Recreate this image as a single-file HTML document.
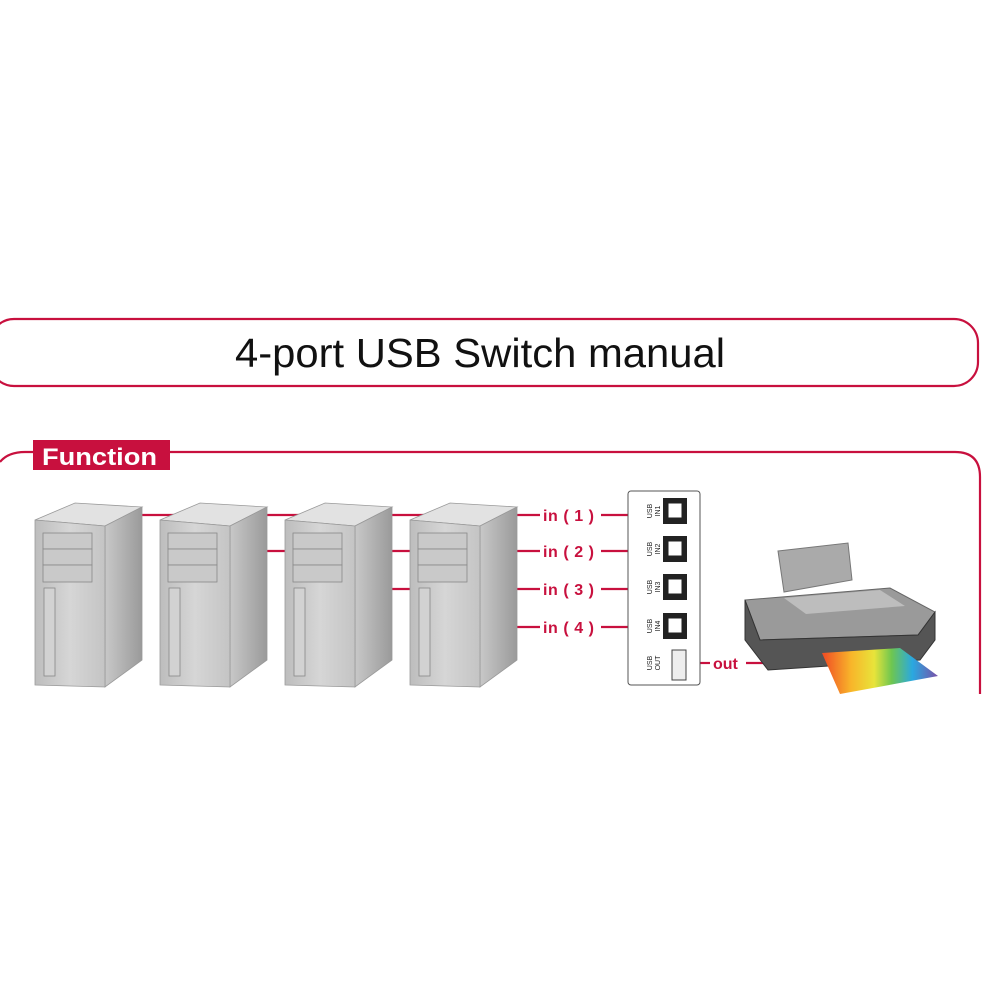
<!DOCTYPE html>
<html><head><style>html,body{margin:0;padding:0;background:#fff;width:1000px;height:1000px;overflow:hidden}</style></head>
<body>
<svg width="1000" height="1000" viewBox="0 0 1000 1000" xmlns="http://www.w3.org/2000/svg" font-family="Liberation Sans, sans-serif">
<defs>
<linearGradient id="fr" x1="0" x2="1"><stop offset="0" stop-color="#bdbdbd"/><stop offset="0.5" stop-color="#d6d6d6"/><stop offset="1" stop-color="#c4c4c4"/></linearGradient>
<linearGradient id="sd" x1="0" x2="1"><stop offset="0" stop-color="#c8c8c8"/><stop offset="1" stop-color="#9a9a9a"/></linearGradient>
<linearGradient id="rb" x1="0" x2="1"><stop offset="0" stop-color="#f04a24"/><stop offset="0.25" stop-color="#f8b52a"/><stop offset="0.45" stop-color="#e8e43a"/><stop offset="0.6" stop-color="#6ec650"/><stop offset="0.78" stop-color="#2aa8e0"/><stop offset="1" stop-color="#7a4fa8"/></linearGradient>
<g id="tw">
<polygon points="35,520 105,526 142,507 75,503" fill="#e2e2e2" stroke="#999" stroke-width="0.8"/>
<polygon points="105,526 142,507 142,660 105,687" fill="url(#sd)" stroke="#999" stroke-width="0.8"/>
<polygon points="35,520 105,526 105,687 35,685" fill="url(#fr)" stroke="#999" stroke-width="0.8"/>
<rect x="43" y="533" width="49" height="16" fill="#c9c9c9" stroke="#888" stroke-width="0.8"/>
<rect x="43" y="549" width="49" height="16" fill="#c9c9c9" stroke="#888" stroke-width="0.8"/>
<rect x="43" y="565" width="49" height="17" fill="#c9c9c9" stroke="#888" stroke-width="0.8"/>
<rect x="44" y="588" width="11" height="88" fill="#d2d2d2" stroke="#888" stroke-width="0.8"/>
</g>
</defs>
<rect x="-10" y="319" width="988" height="67" rx="24" fill="none" stroke="#c8103e" stroke-width="2.2"/>
<text x="480" y="367" font-size="41" text-anchor="middle" textLength="490" lengthAdjust="spacingAndGlyphs" fill="#111">4-port USB Switch manual</text>
<path d="M0,462 Q8,452 25,452 L955,452 Q980,452 980,477 L980,694" fill="none" stroke="#c8103e" stroke-width="2.2"/>
<rect x="33" y="440" width="137" height="30" fill="#c8103e"/>
<text x="42" y="465" font-size="24" font-weight="bold" fill="#fff" textLength="115" lengthAdjust="spacingAndGlyphs">Function</text>
<g stroke="#c8103e" stroke-width="2.2">
<line x1="140" y1="515" x2="540" y2="515"/>
<line x1="265" y1="551" x2="540" y2="551"/>
<line x1="390" y1="589" x2="540" y2="589"/>
<line x1="515" y1="627" x2="540" y2="627"/>
<line x1="601" y1="515" x2="636" y2="515"/>
<line x1="601" y1="551" x2="636" y2="551"/>
<line x1="601" y1="589" x2="636" y2="589"/>
<line x1="601" y1="627" x2="636" y2="627"/>
<line x1="694" y1="663" x2="710" y2="663"/>
<line x1="746" y1="663" x2="768" y2="663"/>
</g>
<use href="#tw"/><use href="#tw" x="125"/><use href="#tw" x="250"/><use href="#tw" x="375"/>
<g font-size="16" font-weight="bold" fill="#c8103e">
<text x="543" y="521" textLength="51" lengthAdjust="spacing">in ( 1 )</text>
<text x="543" y="557" textLength="51" lengthAdjust="spacing">in ( 2 )</text>
<text x="543" y="595" textLength="51" lengthAdjust="spacing">in ( 3 )</text>
<text x="543" y="633" textLength="51" lengthAdjust="spacing">in ( 4 )</text>
<text x="713" y="669">out</text>
</g>
<rect x="628" y="491" width="72" height="194" rx="3" fill="#fff" stroke="#555" stroke-width="1"/>
<g fill="#222">
<rect x="663" y="498" width="24" height="26"/><rect x="663" y="536" width="24" height="26"/>
<rect x="663" y="574" width="24" height="26"/><rect x="663" y="613" width="24" height="26"/>
</g>
<g fill="#fff" stroke="#222" stroke-width="1">
<rect x="668" y="503" width="14" height="15"/><rect x="668" y="541" width="14" height="15"/>
<rect x="668" y="579" width="14" height="15"/><rect x="668" y="618" width="14" height="15"/>
</g>
<rect x="672" y="650" width="14" height="30" fill="#eee" stroke="#444" stroke-width="1"/>
<g font-size="7" fill="#222">
<text transform="translate(652,511) rotate(-90)" text-anchor="middle">USB</text><text transform="translate(660,511) rotate(-90)" text-anchor="middle">IN1</text>
<text transform="translate(652,549) rotate(-90)" text-anchor="middle">USB</text><text transform="translate(660,549) rotate(-90)" text-anchor="middle">IN2</text>
<text transform="translate(652,587) rotate(-90)" text-anchor="middle">USB</text><text transform="translate(660,587) rotate(-90)" text-anchor="middle">IN3</text>
<text transform="translate(652,626) rotate(-90)" text-anchor="middle">USB</text><text transform="translate(660,626) rotate(-90)" text-anchor="middle">IN4</text>
<text transform="translate(652,663) rotate(-90)" text-anchor="middle">USB</text><text transform="translate(660,663) rotate(-90)" text-anchor="middle">OUT</text>
</g>
<!-- printer -->
<polygon points="778,551 848,543 852,580 784,592" fill="#aaa" stroke="#777"/>
<polygon points="745,600 890,588 935,612 918,635 760,640" fill="#9a9a9a" stroke="#666"/>
<polygon points="784,598 880,590 905,606 806,614" fill="#bdbdbd"/>
<polygon points="745,600 760,640 918,635 935,612 935,640 920,660 768,670 745,640" fill="#555" stroke="#333"/>
<polygon points="822,653 900,648 938,676 840,694" fill="url(#rb)"/>
<rect x="0" y="694" width="1000" height="306" fill="#fff"/>
</svg>
</body></html>
